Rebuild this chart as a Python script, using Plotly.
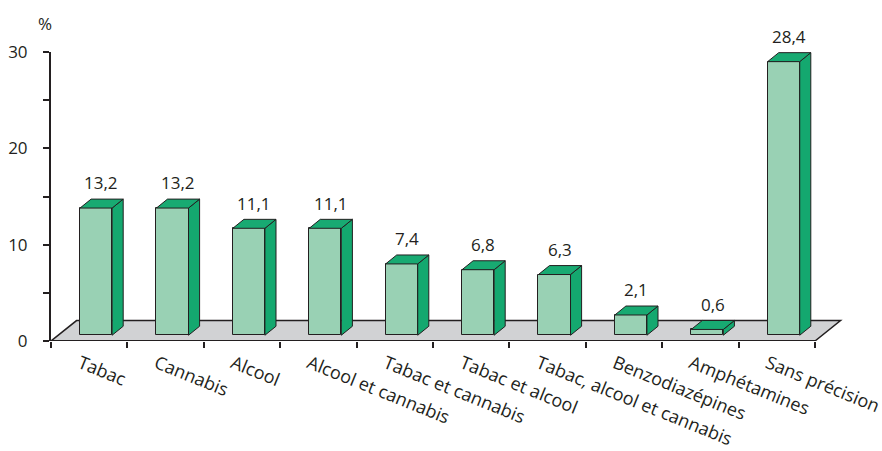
import plotly.graph_objects as go

categories = ["Tabac", "Cannabis", "Alcool", "Alcool et cannabis", "Tabac et cannabis",
              "Tabac et alcool", "Tabac, alcool et cannabis", "Benzodiazépines",
              "Amphétamines", "Sans précision"]
values = [13.2, 13.2, 11.1, 11.1, 7.4, 6.8, 6.3, 2.1, 0.6, 28.4]
value_labels = ["13,2", "13,2", "11,1", "11,1", "7,4", "6,8", "6,3", "2,1", "0,6", "28,4"]
y_ticks = [0, 10, 20, 30]

FRONT = "#99d1b4"
SIDE = "#14a86f"
TOP = "#18aa72"
EDGE = "#231f20"
FLOOR = "#d1d2d4"
FONT = "Open Sans"

# geometry in data units
OX, W = 0.09, 0.42          # front face centre offset / width
B0 = 0.6                    # bar base lifted onto the floor
DX, DY = 0.145, 0.93        # bar depth
FDX, FDY = 0.334, 2.12      # floor depth
XMAX = 9.958
LABEL_SHIFT = -0.12

fig = go.Figure()

n = len(values)
xs = [i + OX for i in range(n)]

fig.add_trace(go.Bar(x=xs, y=values, base=[B0] * n, width=W,
                     marker=dict(color=FRONT, line=dict(color=EDGE, width=1)),
                     hoverinfo="skip", showlegend=False))

for i, v in enumerate(values):
    xl = xs[i] - W / 2
    xr = xs[i] + W / 2
    top = B0 + v
    fig.add_trace(go.Scatter(
        x=[xr, xr, xr + DX, xr + DX, xr], y=[B0, top, top + DY, B0 + DY, B0],
        fill="toself", fillcolor=SIDE, mode="lines", line=dict(color=EDGE, width=1),
        hoverinfo="skip", showlegend=False))
    fig.add_trace(go.Scatter(
        x=[xl, xr, xr + DX, xl + DX, xl], y=[top, top, top + DY, top + DY, top],
        fill="toself", fillcolor=TOP, mode="lines", line=dict(color=EDGE, width=1),
        hoverinfo="skip", showlegend=False))
    fig.add_annotation(x=i + 0.16, y=v, yshift=31, text=value_labels[i], xref="x", yref="y",
                       showarrow=False, xanchor="center", yanchor="middle",
                       font=dict(family=FONT, size=17, color=EDGE))

# invisible trace for the tick axis
fig.add_trace(go.Scatter(x=[0], y=[0], xaxis="x2", mode="markers",
                         marker=dict(opacity=0), hoverinfo="skip", showlegend=False))

# floor
fig.add_shape(type="path", xref="x", yref="y", layer="below",
              path=f"M -0.5 0 L 9.5 0 L {9.5 + FDX} {FDY} L {-0.5 + FDX} {FDY} Z",
              fillcolor=FLOOR, line=dict(color=EDGE, width=1.5))
fig.add_shape(type="line", xref="x", yref="y", x0=-0.5, x1=9.5, y0=0, y1=0,
              line=dict(color=EDGE, width=2))

fig.add_annotation(text="%", xref="paper", yref="paper", x=-0.008, y=1.1,
                   xanchor="center", yanchor="middle",
                   showarrow=False, font=dict(family=FONT, size=17, color=EDGE))

fig.update_layout(
    width=882, height=451,
    margin=dict(l=51, r=32, t=52, b=110, autoexpand=False),
    plot_bgcolor="white", paper_bgcolor="white",
    bargap=0,
    xaxis=dict(range=[-0.5, XMAX], tickmode="array",
               tickvals=[i + LABEL_SHIFT for i in range(n)],
               ticktext=categories, tickangle=22, ticks="", showline=False,
               zeroline=False, showgrid=False, fixedrange=True, automargin=False,
               ticklabelstandoff=8, ticklabeloverflow="allow",
               tickfont=dict(family=FONT, size=18, color=EDGE)),
    xaxis2=dict(range=[-0.5, XMAX], overlaying="x", anchor="y", side="bottom",
                tickmode="array", tickvals=[i - 0.5 for i in range(n + 1)],
                ticks="outside", ticklen=6, tickwidth=2, tickcolor=EDGE, automargin=False,
                showticklabels=False, showline=False, zeroline=False, showgrid=False),
    yaxis=dict(range=[0, 30], tickmode="array", tickvals=y_ticks,
               ticks="outside", ticklen=6, tickwidth=2, tickcolor=EDGE,
               showline=True, linewidth=2, linecolor=EDGE, zeroline=False,
               showgrid=False, ticklabelstandoff=12, automargin=False,
               minor=dict(dtick=5, ticks="outside", ticklen=6, tickwidth=2, tickcolor=EDGE),
               tickfont=dict(family=FONT, size=17, color=EDGE)),
)

fig.write_html("out.html")
